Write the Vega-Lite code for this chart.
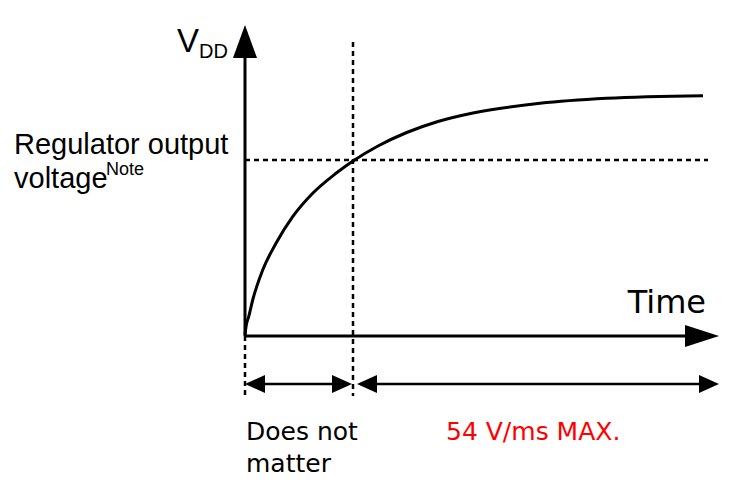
{
  "$schema": "https://vega.github.io/schema/vega-lite/v6.json",
  "width": 741,
  "height": 488,
  "padding": 0,
  "autosize": {"type": "fit", "contains": "padding"},
  "background": "white",
  "config": {"view": {"stroke": null}},
  "datasets": {
    "curve": [
      {"x": 245, "y": 335}, {"x": 246, "y": 326.7}, {"x": 248.7, "y": 316.7}, {"x": 252.7, "y": 300},
      {"x": 262.7, "y": 270}, {"x": 276, "y": 243.3}, {"x": 292.7, "y": 216.7}, {"x": 312.7, "y": 193.3},
      {"x": 336, "y": 173.3}, {"x": 353, "y": 161}, {"x": 378, "y": 146}, {"x": 406.7, "y": 132.5}, {"x": 438, "y": 121.5},
      {"x": 473, "y": 113}, {"x": 540, "y": 103.3}, {"x": 606.7, "y": 98.3}, {"x": 703, "y": 95.7}
    ],
    "axes": [
      {"x": 245, "y": 336, "x2": 245, "y2": 45},
      {"x": 245, "y": 336, "x2": 700, "y2": 336}
    ],
    "dotted": [
      {"x": 353, "y": 42, "x2": 353, "y2": 396},
      {"x": 245, "y": 336, "x2": 245, "y2": 396},
      {"x": 245, "y": 160, "x2": 708, "y2": 160}
    ],
    "spans": [
      {"x": 250, "y": 384, "x2": 348, "y2": 384},
      {"x": 362, "y": 384, "x2": 714, "y2": 384}
    ],
    "headUp": [{"x": 245, "y": 41.5}],
    "headRightBig": [{"x": 702, "y": 336}],
    "headLeft": [{"x": 255, "y": 384}, {"x": 367, "y": 384}],
    "headRight": [{"x": 342, "y": 384}, {"x": 709, "y": 384}],
    "labelV": [{"x": 177, "y": 52, "t": "V"}],
    "labelDD": [{"x": 199, "y": 58, "t": "DD"}],
    "labelReg": [{"x": 14, "y": 154, "t": "Regulator output"}, {"x": 14, "y": 188, "t": "voltage"}],
    "labelNote": [{"x": 106, "y": 175, "t": "Note"}],
    "labelTime": [{"x": 706, "y": 313, "t": "Time"}],
    "labelDoes": [{"x": 246, "y": 440, "t": "Does not"}, {"x": 246, "y": 472, "t": "matter"}],
    "labelRate": [{"x": 446, "y": 440, "t": "54 V/ms MAX."}]
  },
  "encoding": {
    "x": {"field": "x", "type": "quantitative", "scale": {"domain": [0, 741], "nice": false, "zero": false}, "axis": null},
    "y": {"field": "y", "type": "quantitative", "scale": {"domain": [0, 488], "nice": false, "zero": false, "reverse": true}, "axis": null}
  },
  "layer": [
    {"data": {"name": "dotted"}, "mark": {"type": "rule", "color": "black", "strokeWidth": 2.5, "strokeDash": [5, 4]},
     "encoding": {"x2": {"field": "x2"}, "y2": {"field": "y2"}}},
    {"data": {"name": "axes"}, "mark": {"type": "rule", "color": "black", "strokeWidth": 3},
     "encoding": {"x2": {"field": "x2"}, "y2": {"field": "y2"}}},
    {"data": {"name": "spans"}, "mark": {"type": "rule", "color": "black", "strokeWidth": 2.5},
     "encoding": {"x2": {"field": "x2"}, "y2": {"field": "y2"}}},
    {"data": {"name": "curve"}, "mark": {"type": "line", "color": "black", "strokeWidth": 3, "interpolate": "monotone"},
     "encoding": {"order": {"field": "x", "type": "quantitative"}}},
    {"data": {"name": "headUp"}, "mark": {"type": "point", "filled": true, "color": "black", "opacity": 1, "size": 1089, "shape": "M0,-1L0.73,1L-0.73,1Z"}},
    {"data": {"name": "headRightBig"}, "mark": {"type": "point", "filled": true, "color": "black", "opacity": 1, "size": 1156, "shape": "M1,0L-1,-0.65L-1,0.65Z"}},
    {"data": {"name": "headLeft"}, "mark": {"type": "point", "filled": true, "color": "black", "opacity": 1, "size": 400, "shape": "M-1,0L1,-0.9L1,0.9Z"}},
    {"data": {"name": "headRight"}, "mark": {"type": "point", "filled": true, "color": "black", "opacity": 1, "size": 400, "shape": "M1,0L-1,-0.9L-1,0.9Z"}},
    {"data": {"name": "labelV"}, "mark": {"type": "text", "font": "Liberation Sans", "fontSize": 33, "align": "left", "baseline": "alphabetic", "color": "black"},
     "encoding": {"text": {"field": "t"}}},
    {"data": {"name": "labelDD"}, "mark": {"type": "text", "font": "Liberation Sans", "fontSize": 20, "align": "left", "baseline": "alphabetic", "color": "black"},
     "encoding": {"text": {"field": "t"}}},
    {"data": {"name": "labelReg"}, "mark": {"type": "text", "font": "Liberation Sans", "fontSize": 29, "align": "left", "baseline": "alphabetic", "color": "black"},
     "encoding": {"text": {"field": "t"}}},
    {"data": {"name": "labelNote"}, "mark": {"type": "text", "font": "Liberation Sans", "fontSize": 18, "align": "left", "baseline": "alphabetic", "color": "black"},
     "encoding": {"text": {"field": "t"}}},
    {"data": {"name": "labelTime"}, "mark": {"type": "text", "font": "DejaVu Sans", "fontSize": 32, "align": "right", "baseline": "alphabetic", "color": "black"},
     "encoding": {"text": {"field": "t"}}},
    {"data": {"name": "labelDoes"}, "mark": {"type": "text", "font": "DejaVu Sans", "fontSize": 25, "align": "left", "baseline": "alphabetic", "color": "black"},
     "encoding": {"text": {"field": "t"}}},
    {"data": {"name": "labelRate"}, "mark": {"type": "text", "font": "DejaVu Sans", "fontSize": 25, "align": "left", "baseline": "alphabetic", "color": "#ff0000"},
     "encoding": {"text": {"field": "t"}}}
  ]
}
